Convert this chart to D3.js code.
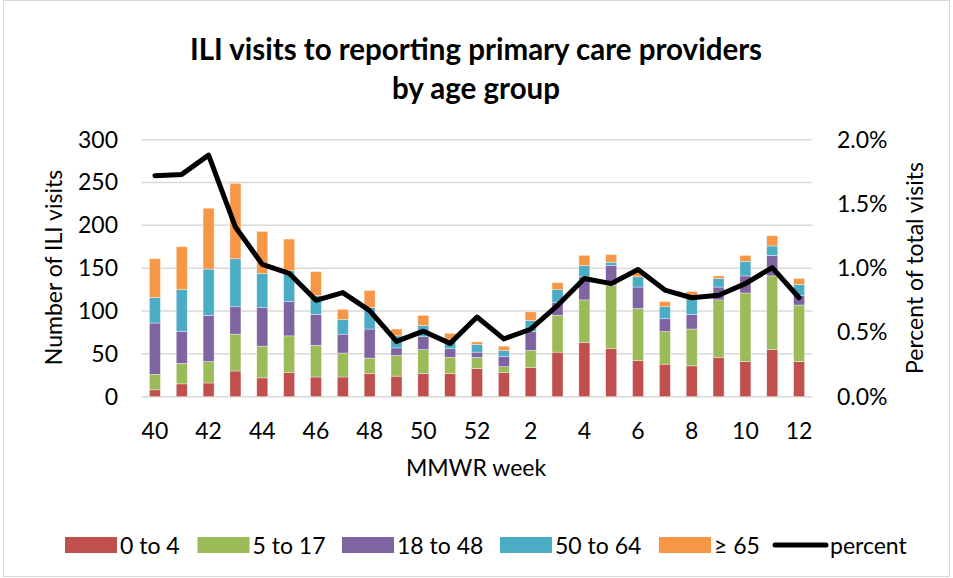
<!DOCTYPE html>
<html><head><meta charset="utf-8">
<script src="https://cdn.jsdelivr.net/npm/d3@7/dist/d3.min.js"></script>
<style>
html,body{margin:0;padding:0;background:#fff;}
svg{display:block;font-family:Lato,"Open Sans",sans-serif;}
</style></head>
<body><svg id="chart" width="953" height="578"></svg>
<script>
const weeks = ["40","41","42","43","44","45","46","47","48","49","50","51","52","1","2","3","4","5","6","7","8","9","10","11","12"];
const tickWeeks = ["40","42","44","46","48","50","52","2","4","6","8","10","12"];
const age0_4   = [8,15,16,30,22,28,23,23,27,24,27,27,33,28,34,52,63,56,42,38,36,46,41,55,41];
const age5_17  = [18,24,25,43,37,43,37,28,18,24,28,19,13,7,20,43,50,74,61,38,43,67,80,86,66];
const age18_48 = [60,37,54,32,45,40,36,22,34,9,15,10,6,12,22,15,27,23,25,15,17,15,20,24,11];
const age50_64 = [30,49,54,56,40,36,22,17,25,14,13,11,9,7,13,15,13,4,12,14,22,10,17,11,13];
const age65    = [45,50,71,88,49,37,28,12,20,8,12,7,3,5,10,8,12,9,7,6,5,3,7,12,7];
const percent  = [1.72,1.73,1.88,1.32,1.03,0.96,0.75,0.81,0.67,0.43,0.51,0.415,0.62,0.45,0.525,0.71,0.92,0.88,0.99,0.83,0.77,0.79,0.88,1.005,0.77];
const leftTicks = [0,50,100,150,200,250,300];
const rightTicks = [0,0.5,1.0,1.5,2.0];
const seriesNames = ["0 to 4","5 to 17","18 to 48","50 to 64","\u2265 65"];
const seriesColors = ["#C0504D","#9BBB59","#8064A2","#4BACC6","#F79646"];

(function(){
const svg = d3.select("#chart");
const pLeft = 141.5, pRight = 812.5, pTop = 139.7, pBottom = 396.7;
const fs = 23;

svg.append("rect").attr("x",3.5).attr("y",0.5).attr("width",946).attr("height",576)
  .attr("fill","#fff").attr("stroke","#d9d9d9").attr("stroke-width",1);

const x = d3.scaleBand().domain(weeks).range([pLeft,pRight]).paddingInner(0.59).paddingOuter(0.295);
const y = d3.scaleLinear().domain([0,300]).range([pBottom,pTop]);
const y2 = d3.scaleLinear().domain([0,2.0]).range([pBottom,pTop]);

svg.append("g").selectAll("line").data(leftTicks).join("line")
  .attr("x1",pLeft).attr("x2",pRight).attr("y1",d=>y(d)).attr("y2",d=>y(d))
  .attr("stroke","#d9d9d9").attr("stroke-width",1.5);

const table = weeks.map((w,i)=>({week:w,s0:age0_4[i],s1:age5_17[i],s2:age18_48[i],s3:age50_64[i],s4:age65[i]}));
const keys = ["s0","s1","s2","s3","s4"];
const stacked = d3.stack().keys(keys)(table);
svg.append("g").selectAll("g").data(stacked).join("g")
  .attr("fill",(d,i)=>seriesColors[i])
  .selectAll("rect").data(d=>d).join("rect")
  .attr("x",d=>x(d.data.week)).attr("width",x.bandwidth())
  .attr("y",d=>y(d[1])).attr("height",d=>y(d[0])-y(d[1]))
  .attr("stroke","#fff").attr("stroke-opacity",0.6).attr("stroke-width",0.6);

const line = d3.line().x((d,i)=>x(weeks[i])+x.bandwidth()/2).y(d=>y2(d));
svg.append("path").datum(percent).attr("d",line).attr("fill","none")
  .attr("stroke","#000").attr("stroke-width",5).attr("stroke-linejoin","round").attr("stroke-linecap","round");

const yAxis = d3.axisLeft(y).tickValues(leftTicks).tickSize(0).tickPadding(0);
const gl = svg.append("g").attr("transform","translate(118,0)").call(yAxis);
gl.select(".domain").remove();
gl.selectAll("text").attr("font-size",fs).attr("font-family","Lato").attr("fill","#000");

const yAxis2 = d3.axisRight(y2).tickValues(rightTicks).tickSize(0).tickPadding(0).tickFormat(d=>d.toFixed(1)+"%");
const gr = svg.append("g").attr("transform","translate(837,0)").call(yAxis2);
gr.select(".domain").remove();
gr.selectAll("text").attr("font-size",fs).attr("font-family","Lato").attr("fill","#000");

const xAxis = d3.axisBottom(x).tickValues(tickWeeks).tickSize(0).tickPadding(0);
const gx = svg.append("g").attr("transform",`translate(0,${pBottom+26})`).call(xAxis);
gx.select(".domain").remove();
gx.selectAll("text").attr("font-size",fs).attr("font-family","Lato").attr("fill","#000");

svg.append("text").attr("x",476).attr("y",60).attr("text-anchor","middle")
  .attr("font-size",29.5).attr("font-weight","bold").text("ILI visits to reporting primary care providers");
svg.append("text").attr("x",476).attr("y",99).attr("text-anchor","middle")
  .attr("font-size",29.5).attr("font-weight","bold").text("by age group");
svg.append("text").attr("x",476).attr("y",476).attr("text-anchor","middle")
  .attr("font-size",fs).text("MMWR week");
svg.append("text").attr("transform","translate(62,267.5) rotate(-90)").attr("text-anchor","middle")
  .attr("font-size",fs).text("Number of ILI visits");
svg.append("text").attr("transform","translate(923,268) rotate(-90)").attr("text-anchor","middle")
  .attr("font-size",fs).text("Percent of total visits");

const legX = [65,197.5,342,500,659];
const lg = svg.append("g");
seriesNames.forEach((n,i)=>{
  lg.append("rect").attr("x",legX[i]).attr("y",537).attr("width",52).attr("height",16).attr("fill",seriesColors[i]);
  lg.append("text").attr("x",legX[i]+55).attr("y",553.5).attr("font-size",fs).text(n);
});
lg.append("line").attr("x1",775).attr("x2",826).attr("y1",545).attr("y2",545).attr("stroke","#000").attr("stroke-width",5).attr("stroke-linecap","round");
lg.append("text").attr("x",830).attr("y",553.5).attr("font-size",fs).text("percent");
})();
</script></body></html>
